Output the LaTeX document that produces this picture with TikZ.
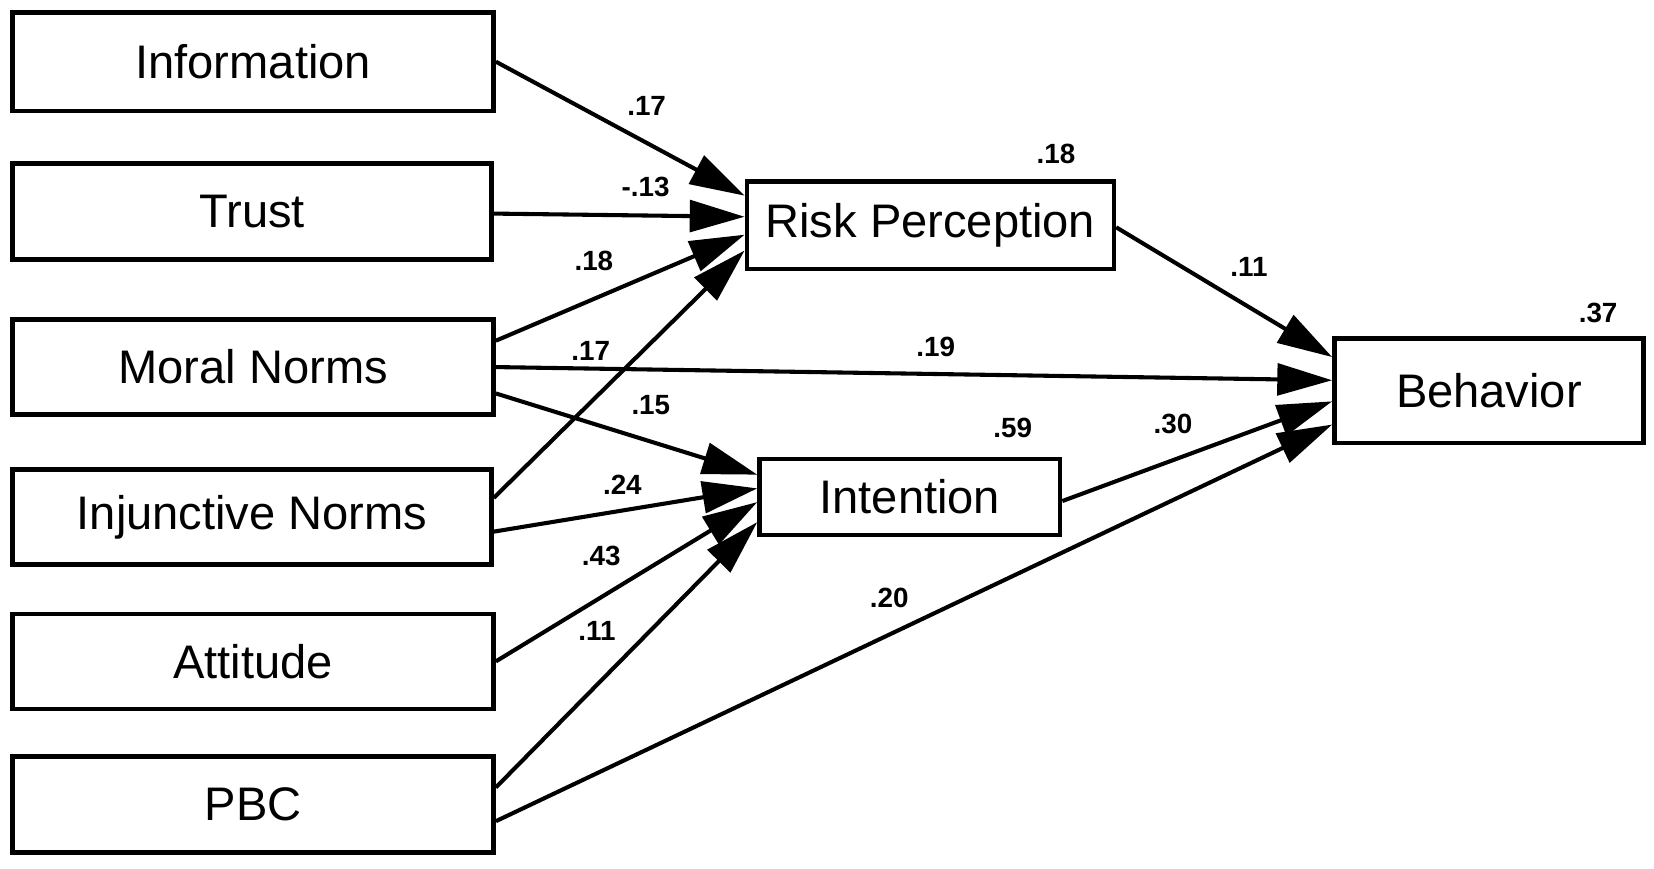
\documentclass[tikz,border=0pt]{standalone}
\usepackage{fontspec}
\setmainfont{Liberation Sans}
\usetikzlibrary{arrows.meta,calc}

\begin{document}
\begin{tikzpicture}[x=0.1mm, y=-0.1mm,
    box/.style={rectangle, draw=black, line width=1.2pt, inner sep=0pt,
                font=\fontsize{12.7}{15}\selectfont},
    coef/.style={font=\fontsize{7.5}{9}\selectfont\bfseries, inner sep=1pt},
    link/.style={-{Triangle[length=5.2mm, width=3mm]}, line width=1.1pt}
  ]
    \useasboundingbox (0,0) rectangle (1568,823);
    % Predictors
    \node[box, minimum width=45.6mm, minimum height=9.3mm] (info) at (240, 58.5) {Information};
    \node[box, minimum width=45.4mm, minimum height=9.1mm] (trust) at (239, 200.5) {Trust};
    \node[box, minimum width=45.6mm, minimum height=9.0mm] (moral) at (240, 348) {Moral Norms};
    \node[box, minimum width=45.4mm, minimum height=9.0mm] (injunctive) at (239, 490) {Injunctive Norms};
    \node[box, minimum width=45.6mm, minimum height=9.0mm] (attitude) at (240, 627) {Attitude};
    \node[box, minimum width=45.6mm, minimum height=9.1mm] (pbc) at (240, 762.5) {PBC};
    % Mediators and outcome
    \node[box, minimum width=34.8mm, minimum height=8.3mm] (risk) at (882, 213.5) {Risk Perception};
    \node[box, minimum width=28.5mm, minimum height=7.2mm] (intention) at (862.5, 471) {Intention};
    \node[box, minimum width=29.3mm, minimum height=9.9mm] (behavior) at (1411.5, 370.5) {Behavior};
    % Paths to risk perception
    \draw[link] (info.east) -- ($(risk.west)+(0,-28)$);
    \draw[link] ($(trust.east)+(0,2)$) -- ($(risk.west)+(0,-8)$);
    \draw[link] ($(moral.east)+(0,-25)$) -- ($(risk.west)+(0,9)$);
    \draw[link] ($(injunctive.east)+(0,-18)$) -- ($(risk.west)+(0,24)$);
    % Paths to intention
    \draw[link] ($(moral.east)+(0,25)$) -- ($(intention.west)+(0,-21)$);
    \draw[link] ($(injunctive.east)+(0,14)$) -- ($(intention.west)+(0,-8)$);
    \draw[link] (attitude.east) -- ($(intention.west)+(0,5)$);
    \draw[link] ($(pbc.east)+(0,-16)$) -- ($(intention.west)+(0,24)$);
    % Paths to behavior
    \draw[link] ($(risk.east)+(0,2)$) -- ($(behavior.west)+(0,-32)$);
    \draw[link] (moral.east) -- ($(behavior.west)+(0,-10)$);
    \draw[link] ($(intention.east)+(0,4)$) -- ($(behavior.west)+(0,10)$);
    \draw[link] ($(pbc.east)+(0,16)$) -- ($(behavior.west)+(0,32)$);
    % Coefficients
    \node[coef] (c-info) at (613, 100) {.17};
    \node[coef] (c-trust) at (612, 177) {-.13};
    \node[coef] (c-moral-risk) at (563, 247) {.18};
    \node[coef] (c-inj-risk) at (560, 333) {.17};
    \node[coef] (c-moral-beh) at (887, 329) {.19};
    \node[coef] (c-moral-int) at (617, 384) {.15};
    \node[coef] (c-inj-int) at (590, 460) {.24};
    \node[coef] (c-att) at (570, 527) {.43};
    \node[coef] (c-pbc-int) at (566, 598) {.11};
    \node[coef] (c-pbc-beh) at (843, 567) {.20};
    \node[coef] (c-risk-beh) at (1184, 253) {.11};
    \node[coef] (c-int-beh) at (1112, 402) {.30};
    % Explained variance
    \node[coef] (r-risk) at (1001, 146) {.18};
    \node[coef] (r-int) at (960, 406) {.59};
    \node[coef] (r-beh) at (1515, 297) {.37};
\end{tikzpicture}
\end{document}
